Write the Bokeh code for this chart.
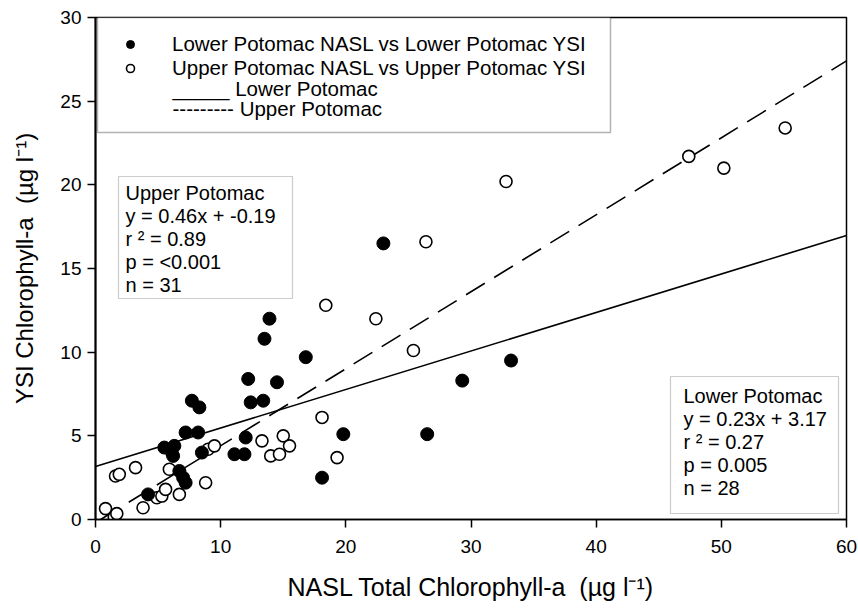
from bokeh.plotting import figure
from bokeh.models import Label, BoxAnnotation, Legend, LegendItem, FixedTicker, Range1d
from bokeh.embed import file_html
from bokeh.resources import INLINE

# ---------------- data ----------------
lower_x = [13.9, 13.5, 12.2, 14.5, 12.4, 13.4, 7.7, 8.3, 7.2, 8.2, 12.0, 5.5, 6.3, 6.2,
           8.5, 11.1, 11.9, 6.7, 7.0, 7.2, 4.2, 23.0, 16.8, 33.2, 29.3, 19.8, 26.5, 18.1]
lower_y = [12.0, 10.8, 8.4, 8.2, 7.0, 7.1, 7.1, 6.7, 5.2, 5.2, 4.9, 4.3, 4.4, 3.8,
           4.0, 3.9, 3.9, 2.9, 2.5, 2.2, 1.5, 16.5, 9.7, 9.5, 8.3, 5.1, 5.1, 2.5]

upper_x = [0.8, 1.5, 1.7, 1.6, 1.9, 3.2, 3.8, 4.9, 5.3, 5.6, 6.7, 5.9, 6.1, 8.8, 9.0, 9.5,
           13.3, 14.0, 14.7, 15.0, 15.5, 18.1, 19.3, 18.4, 22.4, 25.4, 26.4, 32.8, 47.4, 50.2, 55.1]
upper_y = [0.65, 0.15, 0.35, 2.6, 2.7, 3.1, 0.7, 1.3, 1.4, 1.8, 1.5, 3.0, 4.0, 2.2, 4.2, 4.4,
           4.7, 3.8, 3.9, 5.0, 4.4, 6.1, 3.7, 12.8, 12.0, 10.1, 16.6, 20.2, 21.7, 21.0, 23.4]

lower_fit = {"slope": 0.23, "intercept": 3.17, "x_start": 0.0, "x_end": 60.0}
upper_fit = {"slope": 0.46, "intercept": -0.19, "x_start": 0.41, "x_end": 60.0}

x_ticks = [0, 10, 20, 30, 40, 50, 60]
y_ticks = [0, 5, 10, 15, 20, 25, 30]

legend_labels = ["Lower Potomac NASL vs Lower Potomac YSI",
                 "Upper Potomac NASL vs Upper Potomac YSI",
                 "_____ Lower Potomac",
                 "--------- Upper Potomac"]
upper_stats = ["Upper Potomac", "y = 0.46x + -0.19", "r \u00b2 = 0.89", "p = <0.001", "n = 31"]
lower_stats = ["Lower Potomac", "y = 0.23x + 3.17", "r \u00b2 = 0.27", "p = 0.005", "n = 28"]

x_label = "NASL Total Chlorophyll-a \u00a0(\u00b5g l\u207b\u00b9)"
y_label = "YSI Chlorophyll-a \u00a0(\u00b5g l\u207b\u00b9)"

FONT = "Liberation Sans"

# ---------------- page-pixel helpers for annotation placement ----------------
FX0, FX1, FY0, FY1 = 95.0, 846.0, 519.0, 17.0  # frame edges on page


def dx(px):
    return (px - FX0) / (FX1 - FX0) * 60.0


def dy(py):
    return (FY0 - py) / (FY0 - FY1) * 30.0


p = figure(width=858, height=608,
           x_range=Range1d(0, 60), y_range=Range1d(0, 30),
           output_backend="svg", toolbar_location=None,
           min_border_left=95, min_border_right=12, min_border_top=17, min_border_bottom=89)

p.xgrid.visible = False
p.ygrid.visible = False
p.outline_line_color = "black"
p.outline_line_width = 1.5
p.background_fill_color = "white"
p.border_fill_color = "white"

p.xaxis.ticker = FixedTicker(ticks=x_ticks)
p.yaxis.ticker = FixedTicker(ticks=y_ticks)
for ax in (p.xaxis, p.yaxis):
    ax.axis_line_color = "black"
    ax.major_tick_line_color = "black"
    ax.major_tick_line_width = 1.5
    ax.major_tick_in = 0
    ax.major_tick_out = 8
    ax.minor_tick_line_color = None
    ax.major_label_text_font = FONT
    ax.major_label_text_font_size = "19px"
    ax.major_label_text_color = "black"
    ax.axis_label_text_font = FONT
    ax.axis_label_text_font_style = "normal"
    ax.axis_label_text_color = "black"
p.xaxis.axis_label_text_font_size = "25px"
p.yaxis.axis_label_text_font_size = "24px"
p.yaxis.axis_line_width = 2
p.xaxis.axis_line_width = 1.5
p.xaxis.major_label_standoff = 12
p.yaxis.major_label_standoff = 6
p.xaxis.axis_label = x_label
p.yaxis.axis_label = y_label
p.xaxis.axis_label_standoff = 17
p.yaxis.axis_label_standoff = 19

# regression lines
for fit, dash in ((lower_fit, "solid"), (upper_fit, "22 11")):
    xs = [fit["x_start"], fit["x_end"]]
    ys = [fit["slope"] * v + fit["intercept"] for v in xs]
    p.line(xs, ys, line_color="black", line_width=1.6, line_dash=dash)

r_up = p.scatter(upper_x, upper_y, size=12, marker="circle", fill_color="white",
                 line_color="black", line_width=1.6)
r_low = p.scatter(lower_x, lower_y, size=13, marker="circle", fill_color="black",
                  line_color="black", line_width=1)

# legend box
p.add_layout(BoxAnnotation(left=dx(97), right=dx(610), top=30, bottom=dy(132),
                           fill_color="white", fill_alpha=1, line_color="black",
                           line_width=1.5, level="annotation"))

legend = Legend(items=[LegendItem(label=legend_labels[0], renderers=[r_low]),
                       LegendItem(label=legend_labels[1], renderers=[r_up])],
                location=(25, 439), padding=0, margin=0, spacing=0,
                glyph_width=20, glyph_height=20, label_height=20,
                label_standoff=32, label_text_font=FONT, label_text_font_size="20.5px",
                label_text_color="black",
                border_line_color=None, background_fill_alpha=0)
p.add_layout(legend)

for txt, py in zip(legend_labels[2:], (88, 108)):
    p.add_layout(Label(x=dx(172), y=dy(py), text=txt, text_font=FONT, text_color="black",
                       text_font_size="20.5px", text_baseline="middle", level="overlay"))

# statistics boxes
p.add_layout(BoxAnnotation(left=dx(118), right=dx(292), top=dy(176), bottom=dy(298),
                           fill_color="white", fill_alpha=1, line_color="#555555",
                           line_width=1.2, level="annotation"))
for i, txt in enumerate(upper_stats):
    p.add_layout(Label(x=dx(125), y=dy(192 + 23 * i), text=txt, text_font=FONT,
                       text_color="black",
                       text_font_size="20px", text_baseline="middle", level="overlay"))

p.add_layout(BoxAnnotation(left=dx(670), right=dx(838), top=dy(376), bottom=dy(513),
                           fill_color="white", fill_alpha=1, line_color="#555555",
                           line_width=1.2, level="annotation"))
for i, txt in enumerate(lower_stats):
    p.add_layout(Label(x=dx(683), y=dy(395 + 23 * i), text=txt, text_font=FONT,
                       text_color="black",
                       text_font_size="20px", text_baseline="middle", level="overlay"))

open("out.html", "w").write(file_html(p, INLINE))
